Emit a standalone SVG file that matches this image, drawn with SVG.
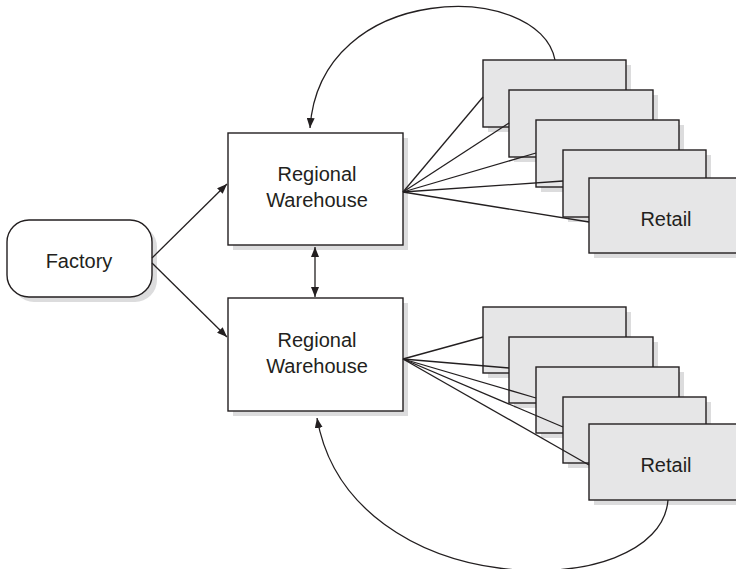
<svg xmlns="http://www.w3.org/2000/svg" width="736" height="569" viewBox="0 0 736 569">
<defs>
<style>
.box{fill:#ffffff;stroke:#231f20;stroke-width:1.4}
.retail{fill:#e6e6e7;stroke:#231f20;stroke-width:1.4}
.sh{fill:#dcdcdd}
.lbl{font-family:"Liberation Sans",Arial,sans-serif;font-size:20px;fill:#231f20;text-anchor:middle}
.con{fill:none;stroke:#231f20;stroke-width:1.3}
</style>
<marker id="ah" viewBox="0 0 10 8" refX="10" refY="4" markerWidth="10" markerHeight="8" markerUnits="userSpaceOnUse" orient="auto-start-reverse">
<path d="M0,0 L10,4 L0,8 z" fill="#231f20"/>
</marker>
</defs>
<rect width="736" height="569" fill="#ffffff"/>

<g id="factory">
<rect class="sh" x="12" y="225" width="145" height="77" rx="22"/>
<rect class="box" x="7" y="220" width="145" height="77" rx="22"/>
<text class="lbl" x="79" y="268">Factory</text>
</g>

<g id="warehouse-top">
<rect class="sh" x="233" y="138" width="175" height="112"/>
<rect class="box" x="228" y="133" width="175" height="112"/>
<text class="lbl" x="317" y="181">Regional</text>
<text class="lbl" x="317" y="207">Warehouse</text>
</g>

<g id="warehouse-bottom">
<rect class="sh" x="233" y="303" width="175" height="113"/>
<rect class="box" x="228" y="298" width="175" height="113"/>
<text class="lbl" x="317" y="347">Regional</text>
<text class="lbl" x="317" y="373">Warehouse</text>
</g>

<g id="retail-top-1"><rect class="sh" x="488" y="65" width="143" height="67"/><rect class="retail" x="483" y="60" width="143" height="67"/></g>
<g id="retail-top-2"><rect class="sh" x="514" y="95" width="144" height="67"/><rect class="retail" x="509" y="90" width="144" height="67"/></g>
<g id="retail-top-3"><rect class="sh" x="541" y="125" width="143" height="67"/><rect class="retail" x="536" y="120" width="143" height="67"/></g>
<g id="retail-top-4"><rect class="sh" x="568" y="155" width="143" height="67"/><rect class="retail" x="563" y="150" width="143" height="67"/></g>
<g id="retail-top-5"><rect class="sh" x="594" y="183" width="154" height="75"/><rect class="retail" x="589" y="178" width="154" height="75"/><text class="lbl" x="666" y="226">Retail</text></g>

<g id="retail-bottom-1"><rect class="sh" x="488" y="312" width="143" height="66"/><rect class="retail" x="483" y="307" width="143" height="66"/></g>
<g id="retail-bottom-2"><rect class="sh" x="514" y="342" width="144" height="66"/><rect class="retail" x="509" y="337" width="144" height="66"/></g>
<g id="retail-bottom-3"><rect class="sh" x="541" y="372" width="143" height="66"/><rect class="retail" x="536" y="367" width="143" height="66"/></g>
<g id="retail-bottom-4"><rect class="sh" x="568" y="402" width="143" height="66"/><rect class="retail" x="563" y="397" width="143" height="66"/></g>
<g id="retail-bottom-5"><rect class="sh" x="594" y="429" width="154" height="76"/><rect class="retail" x="589" y="424" width="154" height="76"/><text class="lbl" x="666" y="472">Retail</text></g>

<g id="connectors">
<line class="con" x1="152" y1="258" x2="227" y2="184" marker-end="url(#ah)"/>
<line class="con" x1="152" y1="263" x2="227" y2="337" marker-end="url(#ah)"/>
<line class="con" x1="315" y1="247" x2="315" y2="297" marker-start="url(#ah)" marker-end="url(#ah)"/>
<line class="con" x1="403" y1="192" x2="483" y2="97"/>
<line class="con" x1="403" y1="192" x2="509" y2="123"/>
<line class="con" x1="403" y1="192" x2="536" y2="153"/>
<line class="con" x1="403" y1="192" x2="563" y2="181"/>
<line class="con" x1="403" y1="192" x2="589" y2="222"/>
<line class="con" x1="403" y1="359" x2="483" y2="337"/>
<line class="con" x1="403" y1="359" x2="509" y2="368"/>
<line class="con" x1="403" y1="359" x2="536" y2="398"/>
<line class="con" x1="403" y1="359" x2="563" y2="427"/>
<line class="con" x1="403" y1="359" x2="589" y2="465"/>
<path class="con" d="M555,60 C540,-20 320,-20 310,128" marker-end="url(#ah)"/>
<path class="con" d="M668,500 C660,605 350,605 317,418" marker-end="url(#ah)"/>
</g>
</svg>
